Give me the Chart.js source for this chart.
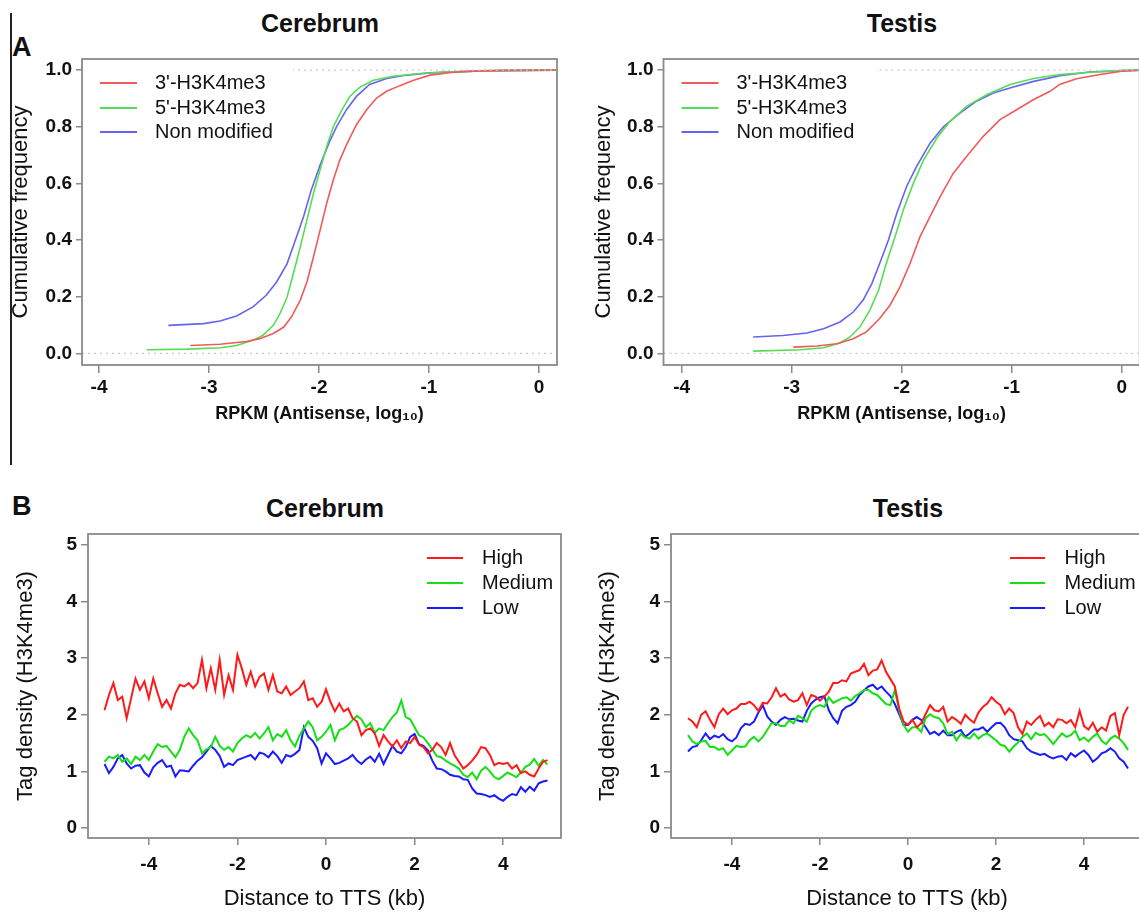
<!DOCTYPE html>
<html>
<head>
<meta charset="utf-8">
<script src="https://cdn.jsdelivr.net/npm/chart.js@4.4.1/dist/chart.umd.min.js"></script>
<style>
  html, body { margin: 0; padding: 0; background: #fff; overflow: hidden; width: 1139px; height: 915px; }
  body { position: relative; font-family: 'Liberation Sans', Arial, sans-serif; color: #111; }
  canvas { position: absolute; }
  .ttl { position: absolute; font-weight: bold; font-size: 25px; transform: translate(-50%, -50%); white-space: nowrap; }
  .tag { position: absolute; font-weight: bold; font-size: 27px; transform: translateY(-50%); }
  .rule { position: absolute; left: 10px; top: 13px; width: 1.5px; height: 452px; background: #222; }
</style>
</head>
<body>
<div class="rule"></div>
<div class="tag" style="left:12px; top:47px;">A</div>
<div class="tag" style="left:12px; top:506px;">B</div>
<div class="ttl" style="left:320px; top:23px;">Cerebrum</div>
<div class="ttl" style="left:902px; top:23px;">Testis</div>
<div class="ttl" style="left:325px; top:508px;">Cerebrum</div>
<div class="ttl" style="left:908px; top:508px;">Testis</div>

<canvas id="cA1" width="570" height="440" style="left:0; top:0;"></canvas>
<canvas id="cA2" width="580" height="440" style="left:570px; top:0;"></canvas>
<canvas id="cB1" width="570" height="445" style="left:0; top:470px;"></canvas>
<canvas id="cB2" width="585" height="445" style="left:570px; top:470px;"></canvas>

<script>
// ---------- Panel A: cumulative frequency of antisense RPKM (log10) ----------
const cerebrumX3p = [-3.17, -2.90, -2.66, -2.54, -2.415, -2.32, -2.25, -2.17, -2.11, -2.05, -1.99, -1.93, -1.87, -1.81, -1.75, -1.66, -1.567, -1.476, -1.385, -1.264, -1.14, -0.99, -0.78, -0.54, -0.3, 0.2];
const cerebrumY3p = [0.028, 0.032, 0.042, 0.052, 0.070, 0.093, 0.129, 0.188, 0.252, 0.341, 0.435, 0.530, 0.612, 0.683, 0.736, 0.807, 0.860, 0.901, 0.925, 0.945, 0.964, 0.982, 0.992, 0.997, 0.999, 1.0];
const cerebrumX5p = [-3.567, -3.20, -2.90, -2.75, -2.60, -2.51, -2.415, -2.355, -2.29, -2.233, -2.17, -2.11, -2.05, -1.99, -1.93, -1.87, -1.79, -1.72, -1.627, -1.506, -1.324, -1.08, -0.78, -0.4, 0.2];
const cerebrumY5p = [0.013, 0.015, 0.020, 0.028, 0.046, 0.064, 0.099, 0.140, 0.199, 0.282, 0.376, 0.471, 0.565, 0.648, 0.730, 0.800, 0.860, 0.907, 0.940, 0.964, 0.978, 0.988, 0.994, 0.998, 1.0];
const cerebrumXNon = [-3.37, -3.05, -2.90, -2.75, -2.60, -2.48, -2.385, -2.29, -2.22, -2.14, -2.07, -1.99, -1.91, -1.84, -1.75, -1.66, -1.54, -1.385, -1.23, -0.99, -0.54, 0.2];
const cerebrumYNon = [0.099, 0.105, 0.114, 0.132, 0.164, 0.205, 0.252, 0.317, 0.394, 0.483, 0.577, 0.665, 0.742, 0.800, 0.860, 0.907, 0.949, 0.970, 0.981, 0.990, 0.997, 1.0];

const testisX3p = [-2.985, -2.77, -2.59, -2.44, -2.32, -2.20, -2.106, -2.015, -1.924, -1.833, -1.742, -1.65, -1.53, -1.41, -1.258, -1.106, -0.955, -0.80, -0.65, -0.56, -0.41, -0.197, 0, 0.2];
const testisY3p = [0.022, 0.026, 0.034, 0.052, 0.076, 0.123, 0.170, 0.235, 0.317, 0.412, 0.483, 0.553, 0.636, 0.695, 0.766, 0.825, 0.860, 0.896, 0.925, 0.950, 0.969, 0.984, 0.996, 1.0];
const testisX5p = [-3.35, -2.92, -2.71, -2.56, -2.47, -2.38, -2.29, -2.21, -2.14, -2.06, -1.985, -1.894, -1.80, -1.68, -1.56, -1.41, -1.227, -1.015, -0.80, -0.56, -0.29, 0, 0.2];
const testisY5p = [0.008, 0.013, 0.020, 0.037, 0.058, 0.093, 0.152, 0.223, 0.317, 0.412, 0.506, 0.600, 0.683, 0.760, 0.819, 0.872, 0.913, 0.949, 0.970, 0.984, 0.992, 0.998, 1.0];
const testisXNon = [-3.35, -3.08, -2.86, -2.71, -2.56, -2.44, -2.35, -2.27, -2.20, -2.12, -2.045, -1.955, -1.864, -1.742, -1.62, -1.47, -1.32, -1.167, -0.985, -0.80, -0.56, -0.29, 0, 0.2];
const testisYNon = [0.058, 0.063, 0.072, 0.087, 0.111, 0.146, 0.188, 0.247, 0.317, 0.400, 0.494, 0.589, 0.660, 0.742, 0.800, 0.848, 0.890, 0.919, 0.940, 0.960, 0.980, 0.993, 0.998, 1.0];

const cdfLabels = ["3'-H3K4me3", "5'-H3K4me3", "Non modified"];
const cdfXTicks = [-4, -3, -2, -1, 0];
const cdfYTicks = [0, 0.2, 0.4, 0.6, 0.8, 1.0];
const cdfGuides = [0, 1];

// ---------- Panel B: H3K4me3 tag density around the TTS ----------
const distanceKb = Array.from({ length: 101 }, (_, i) => Math.round((-5 + i * 0.1) * 10) / 10);

const cerebrumHigh = [
  2.08, 2.35, 2.56, 2.26, 2.32, 1.94, 2.29, 2.64, 2.44, 2.59,
  2.29, 2.64, 2.38, 2.14, 2.26, 2.11, 2.38, 2.53, 2.50, 2.56,
  2.47, 2.56, 2.97, 2.47, 2.82, 2.44, 2.97, 2.35, 2.70, 2.44,
  3.06, 2.82, 2.53, 2.76, 2.50, 2.67, 2.73, 2.44, 2.70, 2.41,
  2.38, 2.50, 2.35, 2.41, 2.47, 2.59, 2.26, 2.29, 2.14, 2.23,
  2.45,
  2.23, 2.06, 2.20, 2.06, 2.11, 1.94, 1.88, 1.64, 1.73, 1.76,
  1.67, 1.45, 1.64, 1.53, 1.44, 1.55, 1.41, 1.53, 1.50, 1.61,
  1.47, 1.43, 1.32, 1.38, 1.50, 1.43, 1.29, 1.50, 1.29, 1.17,
  1.05, 1.11, 1.19, 1.29, 1.43, 1.41, 1.29, 1.11, 1.15, 1.13,
  1.15, 1.05, 1.11, 0.97, 1.00, 0.94, 0.91, 1.05, 1.17, 1.20
];
const cerebrumMedium = [
  1.17, 1.26, 1.23, 1.29, 1.17, 1.23, 1.13, 1.26, 1.20, 1.29,
  1.20, 1.35, 1.48, 1.43, 1.45, 1.35, 1.25, 1.38, 1.61, 1.76,
  1.64, 1.55, 1.32, 1.39, 1.43, 1.61, 1.45, 1.38, 1.43, 1.35,
  1.50, 1.58, 1.64, 1.60, 1.68, 1.58, 1.67, 1.78, 1.55, 1.66,
  1.61, 1.73, 1.55, 1.44, 1.63, 1.76, 1.88, 1.78, 1.55, 1.61,
  1.70,
  1.82, 1.55, 1.73, 1.76, 1.82, 1.91, 1.98, 1.92, 1.78, 1.85,
  1.68, 1.76, 1.73, 1.85, 1.96, 2.04, 2.25, 1.96, 1.92, 1.78,
  1.64, 1.60, 1.50, 1.39, 1.27, 1.25, 1.19, 1.14, 1.10, 1.05,
  0.94, 0.90, 0.98, 0.86, 1.01, 1.08, 1.00, 0.90, 0.86, 0.92,
  0.98, 0.94, 0.90, 0.98, 1.08, 1.12, 1.22, 1.10, 1.20, 1.12
];
const cerebrumLow = [
  1.13, 0.97, 1.08, 1.23, 1.29, 1.14, 1.05, 1.10, 1.11, 0.98,
  0.91, 1.07, 1.15, 1.20, 1.08, 1.10, 0.91, 1.02, 1.01, 1.00,
  1.10, 1.19, 1.25, 1.35, 1.45, 1.38, 1.27, 1.08, 1.14, 1.11,
  1.20, 1.23, 1.26, 1.29, 1.21, 1.33, 1.31, 1.25, 1.35, 1.27,
  1.15, 1.29, 1.26, 1.31, 1.38, 1.78, 1.61, 1.54, 1.41, 1.14,
  1.32,
  1.23, 1.13, 1.15, 1.19, 1.23, 1.29, 1.19, 1.13, 1.21, 1.26,
  1.17, 1.31, 1.13, 1.29, 1.45, 1.35, 1.32, 1.43, 1.61, 1.66,
  1.48, 1.45, 1.37, 1.19, 1.05, 1.04, 1.00, 0.94, 0.92, 0.91,
  0.86, 0.85, 0.70, 0.61, 0.60, 0.58, 0.55, 0.58, 0.52, 0.48,
  0.55, 0.60, 0.58, 0.72, 0.64, 0.73, 0.66, 0.79, 0.82, 0.84
];
const testisHigh = [
  1.94, 1.88, 1.78, 2.00, 2.06, 1.91, 1.78, 2.01, 2.11, 2.01,
  2.08, 2.11, 2.19, 2.19, 2.23, 2.17, 2.07, 2.21, 2.20, 2.31,
  2.47, 2.32, 2.37, 2.27, 2.23, 2.26, 2.38, 2.17, 2.35, 2.32,
  2.25, 2.32, 2.41, 2.56, 2.56, 2.61, 2.59, 2.73, 2.76, 2.79,
  2.90, 2.70, 2.78, 2.80, 2.96, 2.76, 2.63, 2.50, 2.11, 1.88,
  1.82,
  1.91, 1.78, 1.85, 2.01, 2.17, 2.08, 2.06, 2.14, 1.88, 1.96,
  1.91, 1.84, 2.00, 1.92, 1.86, 2.04, 2.14, 2.20, 2.31, 2.23,
  2.17, 2.01, 2.11, 2.03, 1.78, 1.66, 1.88, 1.82, 1.91, 1.98,
  1.80, 1.86, 1.78, 1.92, 1.91, 1.85, 1.91, 1.78, 2.07, 1.80,
  1.74, 1.86, 1.70, 1.78, 1.72, 1.98, 2.03, 1.64, 2.00, 2.14
];
const testisMedium = [
  1.64, 1.53, 1.48, 1.53, 1.54, 1.43, 1.43, 1.38, 1.41, 1.29,
  1.37, 1.45, 1.43, 1.44, 1.55, 1.61, 1.53, 1.61, 1.73, 1.85,
  1.85, 1.80, 1.80, 1.90, 1.85, 1.98, 1.94, 1.88, 2.07, 2.14,
  2.17, 2.14, 2.31, 2.21, 2.25, 2.29, 2.31, 2.25, 2.33, 2.38,
  2.44, 2.44, 2.38, 2.35, 2.27, 2.19, 2.17, 2.44, 2.07, 1.82,
  1.70,
  1.78, 1.78, 1.70, 1.94, 2.01, 1.96, 1.94, 1.85, 1.66, 1.70,
  1.55, 1.66, 1.60, 1.58, 1.67, 1.58, 1.64, 1.67, 1.61, 1.55,
  1.47, 1.45, 1.35, 1.44, 1.51, 1.61, 1.67, 1.57, 1.68, 1.64,
  1.66, 1.58, 1.48, 1.58, 1.67, 1.61, 1.64, 1.72, 1.55, 1.60,
  1.53, 1.61, 1.67, 1.54, 1.48, 1.58, 1.63, 1.58, 1.50, 1.38
];
const testisLow = [
  1.35, 1.43, 1.45, 1.55, 1.67, 1.57, 1.63, 1.60, 1.66, 1.57,
  1.53, 1.60, 1.76, 1.84, 1.82, 1.88, 2.04, 2.17, 1.97, 1.88,
  1.82, 1.91, 1.96, 1.92, 1.93, 1.90, 1.88, 2.07, 2.20, 2.27,
  2.31, 2.33, 2.08, 1.94, 1.85, 2.07, 2.14, 2.17, 2.23, 2.35,
  2.43, 2.50, 2.53, 2.45, 2.50, 2.41, 2.33, 2.19, 2.01, 1.82,
  1.82,
  1.91, 1.96, 1.91, 1.78, 1.66, 1.70, 1.64, 1.72, 1.64, 1.64,
  1.70, 1.73, 1.61, 1.67, 1.74, 1.74, 1.78, 1.70, 1.78, 1.85,
  1.86, 1.78, 1.64, 1.57, 1.55, 1.53, 1.41, 1.35, 1.32, 1.29,
  1.31, 1.26, 1.23, 1.26, 1.27, 1.20, 1.32, 1.26, 1.32, 1.37,
  1.29, 1.17, 1.23, 1.32, 1.35, 1.41, 1.35, 1.23, 1.17, 1.05
];

const densityLabels = ['High', 'Medium', 'Low'];
const densityXTicks = [-4, -2, 0, 2, 4];
const densityYTicks = [0, 1, 2, 3, 4, 5];

// ---------- shared drawing helpers ----------
const FONT = "'Liberation Sans', Arial, sans-serif";
const INK = '#111';
const FRAME = '#8a8a8a';

const pairs = (xs, ys) => xs.map((x, i) => ({ x, y: ys[i] }));

// grey frame around the plotting region plus a legend drawn inside it
const framePlugin = {
  id: 'frameAndLegend',
  afterDatasetsDraw(chart, args, opts) {
    const { ctx, chartArea: a } = chart;
    ctx.save();
    if (opts.backdrop) {
      ctx.fillStyle = '#fff';
      ctx.fillRect(a.left + 1, a.top + 1, opts.backdrop[0], opts.backdrop[1]);
    }
    ctx.strokeStyle = FRAME;
    ctx.lineWidth = 1.8;
    ctx.strokeRect(a.left, a.top, a.right - a.left, a.bottom - a.top);

    const items = chart.data.datasets.filter(d => d.inLegend);
    const base = opts.side === 'right' ? a.right : a.left;
    ctx.font = '20px ' + FONT;
    ctx.textBaseline = 'middle';
    ctx.textAlign = 'left';
    items.forEach((d, i) => {
      const y = a.top + opts.rows[i];
      ctx.strokeStyle = d.borderColor;
      ctx.lineWidth = 2;
      ctx.beginPath();
      ctx.moveTo(base + opts.line[0], y);
      ctx.lineTo(base + opts.line[1], y);
      ctx.stroke();
      ctx.fillStyle = INK;
      ctx.fillText(d.label, base + opts.text, y);
    });
    ctx.restore();
  }
};

function makePanel(id, p) {
  return new Chart(document.getElementById(id), {
    type: 'line',
    data: { datasets: p.datasets },
    options: {
      responsive: false,
      animation: false,
      devicePixelRatio: 1,
      layout: { padding: { left: 0, top: p.padTop, right: p.padRight, bottom: 0 } },
      plugins: {
        legend: { display: false },
        tooltip: { enabled: false },
        frameAndLegend: p.legend
      },
      elements: { point: { radius: 0 }, line: { tension: 0 } },
      scales: {
        x: {
          type: 'linear',
          min: p.xMin, max: p.xMax,
          afterBuildTicks: s => { s.ticks = p.xTicks.map(v => ({ value: v })); },
          afterFit: s => { s.height = p.xAxisH; },
          border: { display: false },
          grid: { drawOnChartArea: false, drawTicks: true, tickLength: p.xTickLen, color: FRAME, lineWidth: 1.5 },
          ticks: {
            color: INK, padding: p.xTickPad,
            font: { family: FONT, size: 19, weight: 'bold' },
            callback: v => (v < 0 ? '-' + Math.abs(v) : String(v))
          },
          title: {
            display: true, text: p.xTitle, color: INK,
            font: { family: FONT, size: p.xTitleSize, weight: p.xTitleWeight },
            padding: { top: 0, bottom: p.xTitlePad }
          }
        },
        y: {
          type: 'linear',
          min: p.yMin, max: p.yMax,
          afterBuildTicks: s => { s.ticks = p.yTicks.map(v => ({ value: v })); },
          afterFit: s => { s.width = p.yAxisW; },
          border: { display: false },
          grid: { drawOnChartArea: false, drawTicks: true, tickLength: p.yTickLen, color: FRAME, lineWidth: 1.5 },
          ticks: {
            color: INK, padding: 4,
            font: { family: FONT, size: 19, weight: 'bold' },
            callback: p.yFormat
          },
          title: {
            display: true, text: p.yTitle, color: INK,
            font: { family: FONT, size: 22, weight: 'normal' },
            padding: { top: p.yTitlePad, bottom: 0 }
          }
        }
      }
    },
    plugins: [framePlugin]
  });
}

// ---------- panel A ----------
const cdfColors = ['#f05a5a', '#55dd55', '#6464f0'];
function cdfDatasets(xs, ys, xMin, xMax) {
  const curves = xs.map((x, k) => ({
    label: cdfLabels[k], inLegend: true,
    data: pairs(x, ys[k]),
    borderColor: cdfColors[k], borderWidth: 1.6, clip: 0
  }));
  const guides = cdfGuides.map(g => ({
    label: 'guide ' + g, inLegend: false,
    data: [{ x: xMin, y: g }, { x: xMax, y: g }],
    borderColor: '#c8c8c8', borderWidth: 1.2, borderDash: [2, 4], clip: 0
  }));
  return guides.concat(curves);
}

const cdfCommon = {
  padTop: 59, xAxisH: 75, yMin: -0.041, yMax: 1.039,
  xTicks: cdfXTicks, yTicks: cdfYTicks,
  xTickLen: 8, xTickPad: 3, yTickLen: 6,
  yFormat: v => v.toFixed(1),
  xTitle: 'RPKM (Antisense, log\u2081\u2080)', xTitleSize: 18, xTitleWeight: 'bold', xTitlePad: 15,
  yTitle: 'Cumulative frequency',
};

makePanel('cA1', Object.assign({}, cdfCommon, {
  padRight: 13, yAxisW: 82, yTitlePad: 7.5,
  xMin: -4.155, xMax: 0.164,
  datasets: cdfDatasets([cerebrumX3p, cerebrumX5p, cerebrumXNon], [cerebrumY3p, cerebrumY5p, cerebrumYNon], -4.155, 0.164),
  legend: { side: 'left', line: [18, 55], text: 73, rows: [24, 49, 73], backdrop: [210, 92] }
}));

makePanel('cA2', Object.assign({}, cdfCommon, {
  padRight: 10.3, yAxisW: 93.5, yTitlePad: 20.8,
  xMin: -4.165, xMax: 0.164,
  datasets: cdfDatasets([testisX3p, testisX5p, testisXNon], [testisY3p, testisY5p, testisYNon], -4.165, 0.164),
  legend: { side: 'left', line: [18, 55], text: 73, rows: [24, 49, 73], backdrop: [211, 92] }
}));

// ---------- panel B ----------
const densityColors = ['#ff1a1a', '#14e014', '#1a1aff'];
function densityDatasets(series) {
  return series.map((vals, k) => ({
    label: densityLabels[k], inLegend: true,
    data: pairs(distanceKb, vals),
    borderColor: densityColors[k], borderWidth: 2, clip: 0
  }));
}

const densityCommon = {
  padTop: 64, xAxisH: 77, yMin: -0.177, yMax: 5.194,
  xTicks: densityXTicks, yTicks: densityYTicks,
  xTickLen: 7, xTickPad: 8.6, yTickLen: 7,
  yFormat: v => String(v),
  xTitle: 'Distance to TTS (kb)', xTitleSize: 22, xTitleWeight: 'normal', xTitlePad: 2.8,
  yTitle: 'Tag density (H3K4me3)',
};

makePanel('cB1', Object.assign({}, densityCommon, {
  padRight: 9, yAxisW: 88, yTitlePad: 12.8,
  xMin: -5.373, xMax: 5.305,
  datasets: densityDatasets([cerebrumHigh, cerebrumMedium, cerebrumLow]),
  legend: { side: 'right', line: [-134, -98], text: -79, rows: [24, 49, 74] }
}));

makePanel('cB2', Object.assign({}, densityCommon, {
  padRight: 12, yAxisW: 101, yTitlePad: 24.8,
  xMin: -5.386, xMax: 5.34,
  datasets: densityDatasets([testisHigh, testisMedium, testisLow]),
  legend: { side: 'right', line: [-133, -98], text: -78.5, rows: [24, 49, 74] }
}));
</script>
</body>
</html>
